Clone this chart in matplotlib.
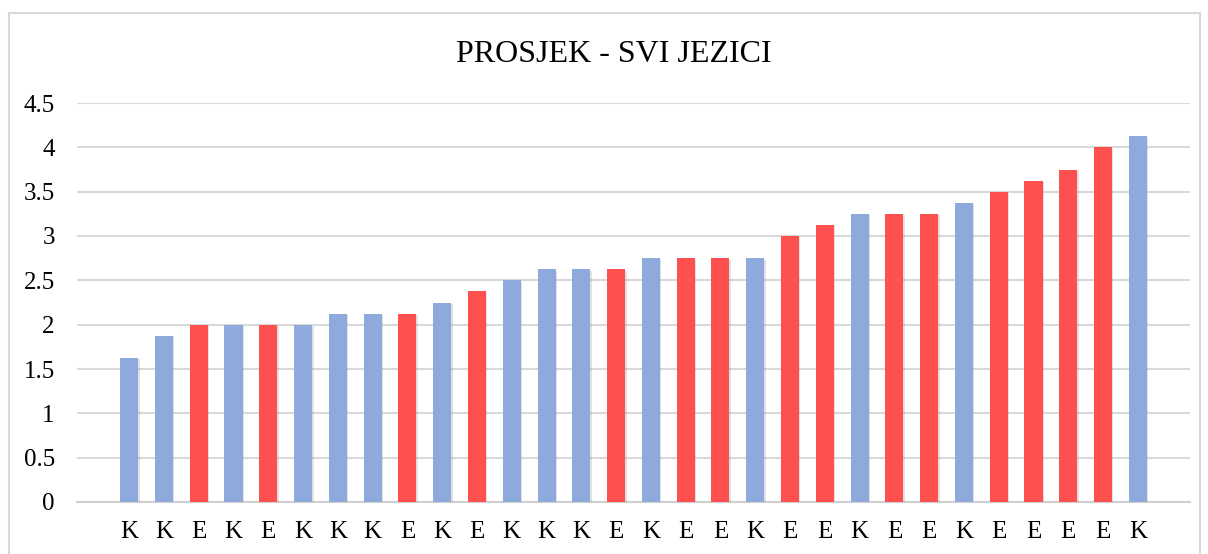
import matplotlib
matplotlib.use('Agg')
import matplotlib.pyplot as plt
from matplotlib.patches import Rectangle
import matplotlib.patheffects as pe

labels = ['K', 'K', 'E', 'K', 'E', 'K', 'K', 'K', 'E', 'K',
          'E', 'K', 'K', 'K', 'E', 'K', 'E', 'E', 'K', 'E',
          'E', 'K', 'E', 'E', 'K', 'E', 'E', 'E', 'E', 'K']
values = [1.625, 1.875, 2.0, 2.0, 2.0, 2.0, 2.125, 2.125, 2.125, 2.25,
          2.375, 2.5, 2.625, 2.625, 2.625, 2.75, 2.75, 2.75, 2.75, 3.0,
          3.125, 3.25, 3.25, 3.25, 3.375, 3.5, 3.625, 3.75, 4.0, 4.125]
yticks = [0, 0.5, 1, 1.5, 2, 2.5, 3, 3.5, 4, 4.5]
ytick_labels = ['0', '0.5', '1', '1.5', '2', '2.5', '3', '3.5', '4', '4.5']

colors = {'K': '#8EA9DB', 'E': '#FF5050'}

plt.rcParams['font.family'] = ['Liberation Serif', 'DejaVu Serif']

W, H = 1208, 554
fig = plt.figure(figsize=(W / 100, H / 100), dpi=100)

# light grey frame round the chart area (runs off the bottom)
fig.patches.append(Rectangle((9 / W, -0.05), (1200 - 9) / W, 1.05 - 13 / H,
                             transform=fig.transFigure, fill=False,
                             edgecolor='#D9D9D9', linewidth=1.5))

ax = fig.add_axes([77 / W, 52 / H, (1190 - 77) / W, 399 / H])
x = list(range(len(values)))
bars = ax.bar(x, values, width=0.52, color=[colors[l] for l in labels], zorder=3)
for b in bars:
    b.set_path_effects([pe.SimplePatchShadow(offset=(1, -1), shadow_rgbFace='#888888', alpha=0.25),
                        pe.Normal()])

ax.set_xlim(-1.5, 30.5)
ax.set_ylim(0, 4.5)
ax.set_yticks(yticks)
ax.set_yticklabels(ytick_labels)
ax.set_xticks(x)
ax.set_xticklabels(labels)
ax.tick_params(axis='y', length=0, pad=16, labelsize=18)
ax.tick_params(axis='x', length=0, pad=14, labelsize=18)
ax.grid(axis='y', color='#D9D9D9', linewidth=1.5, zorder=0)
for s in ['top', 'right', 'left']:
    ax.spines[s].set_visible(False)
ax.spines['bottom'].set_color('#D0D0D0')
ax.spines['bottom'].set_linewidth(1.5)

fig.text(614 / W, 1 - 54 / H, 'PROSJEK - SVI JEZICI', ha='center', va='center', fontsize=23)

fig.savefig('out.png', dpi=100)
